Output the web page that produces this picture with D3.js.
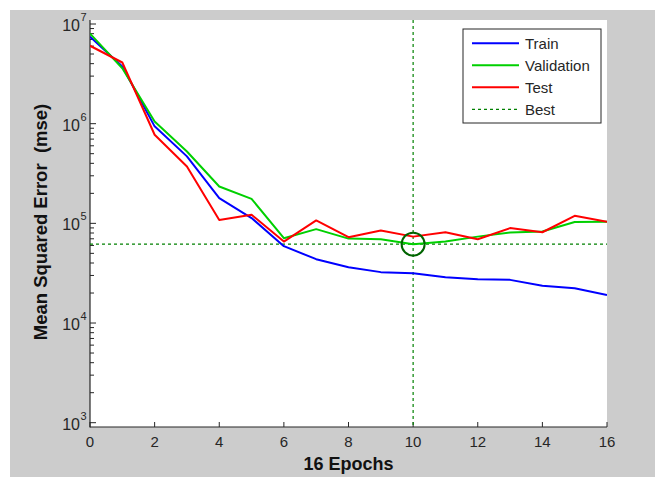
<!DOCTYPE html>
<html><head><meta charset="utf-8">
<script src="https://cdn.jsdelivr.net/npm/d3@7"></script>
<style>html,body{margin:0;padding:0;background:#fff;}svg{display:block;}</style>
</head><body>
<script>
const epochs = [0,1,2,3,4,5,6,7,8,9,10,11,12,13,14,15,16];
const train = [7.45e6,3.75e6,9.4e5,4.7e5,1.79e5,1.13e5,5.9e4,4.37e4,3.63e4,3.24e4,3.16e4,2.88e4,2.75e4,2.71e4,2.36e4,2.23e4,1.91e4];
const validation = [8.0e6,3.6e6,1.05e6,5.26e5,2.34e5,1.76e5,7.1e4,8.75e4,7.03e4,6.93e4,6.18e4,6.57e4,7.36e4,8.1e4,8.3e4,1.03e5,1.04e5];
const test = [6.05e6,4.11e6,7.74e5,3.72e5,1.08e5,1.22e5,6.56e4,1.07e5,7.26e4,8.47e4,7.36e4,8.14e4,6.93e4,8.96e4,8.14e4,1.19e5,1.04e5];
const bestEpoch = 10;
const bestValue = 6.18e4;
const xTicks = [0,2,4,6,8,10,12,14,16];
const yExponents = [3,4,5,6,7];
const legendLabels = ["Train","Validation","Test","Best"];
const xLabel = "16 Epochs";
const yLabel = "Mean Squared Error  (mse)";

const W = 655, H = 477;
const L = 90, R = 607, T = 20, B = 427;
const svg = d3.select("body").append("svg").attr("width", W).attr("height", H);
svg.append("rect").attr("x",10).attr("y",10).attr("width",W-10).attr("height",H-10).attr("fill","#cccccc");
svg.append("rect").attr("x",L).attr("y",T).attr("width",R-L).attr("height",B-T).attr("fill","#ffffff");

const x = d3.scaleLinear().domain([0,16]).range([L,R]);
const y = d3.scaleLog().domain([1e3,1e7]).range([422.7,24]);

const axisColor = "#262626";
const defs = svg.append("defs");
defs.append("clipPath").attr("id","clip").append("rect").attr("x",L).attr("y",T).attr("width",R-L).attr("height",B-T);

// y ticks
const gy = svg.append("g");
yExponents.forEach(e => {
  const v = Math.pow(10,e);
  gy.append("line").attr("x1",L).attr("x2",L+6).attr("y1",y(v)).attr("y2",y(v)).attr("stroke",axisColor);
  if (e < 7) {
    for (let m = 2; m <= 9; m++) {
      const vv = m*v;
      gy.append("line").attr("x1",L).attr("x2",L+4).attr("y1",y(vv)).attr("y2",y(vv)).attr("stroke",axisColor);
    }
  }
  gy.append("text").attr("x",80).attr("y",y(v)+7).attr("text-anchor","end")
    .attr("font-family","Liberation Sans, Arial, sans-serif").attr("font-size",16).attr("fill",axisColor).text("10");
  gy.append("text").attr("x",80.5).attr("y",y(v)-3).attr("font-family","Liberation Sans, Arial, sans-serif")
    .attr("font-size",11).attr("fill",axisColor).text(String(e));
});

// x ticks
const gx = svg.append("g");
xTicks.forEach(t => {
  gx.append("line").attr("x1",x(t)).attr("x2",x(t)).attr("y1",B).attr("y2",B-5).attr("stroke",axisColor);
  gx.append("text").attr("x",x(t)).attr("y",446.5).attr("text-anchor","middle")
    .attr("font-family","Liberation Sans, Arial, sans-serif").attr("font-size",15).attr("fill",axisColor).text(String(t));
});

// axis lines
svg.append("line").attr("x1",L).attr("x2",L).attr("y1",T).attr("y2",B+0.5).attr("stroke",axisColor).attr("stroke-width",1.2);
svg.append("line").attr("x1",L).attr("x2",R).attr("y1",B).attr("y2",B).attr("stroke",axisColor).attr("stroke-width",1.2);

// best lines
const plot = svg.append("g").attr("clip-path","url(#clip)");
const bestColor = "#008000";
plot.append("line").attr("x1",x(bestEpoch)).attr("x2",x(bestEpoch)).attr("y1",T).attr("y2",B)
  .attr("stroke",bestColor).attr("stroke-width",1.2).attr("stroke-dasharray","3,3");
plot.append("line").attr("x1",L).attr("x2",R).attr("y1",y(bestValue)).attr("y2",y(bestValue))
  .attr("stroke",bestColor).attr("stroke-width",1.2).attr("stroke-dasharray","3,3");

const line = d3.line().x((d,i)=>x(epochs[i])).y(d=>y(d));
const series = [
  {data: train, color:"#0000ff"},
  {data: validation, color:"#00d000"},
  {data: test, color:"#ff0000"}
];
series.forEach(s => {
  plot.append("path").attr("d", line(s.data)).attr("fill","none").attr("stroke",s.color).attr("stroke-width",2).attr("stroke-linejoin","round");
});
// best circle
plot.append("circle").attr("cx",x(bestEpoch)).attr("cy",y(bestValue)).attr("r",11.5)
  .attr("fill","none").attr("stroke","#006400").attr("stroke-width",2);

// legend
const lg = svg.append("g");
lg.append("rect").attr("x",463).attr("y",29).attr("width",138).attr("height",94).attr("fill","#fff").attr("stroke","#262626").attr("stroke-width",1);
const legendColors = ["#0000ff","#00d000","#ff0000",bestColor];
legendLabels.forEach((lab,i) => {
  const cy = 43.3 + i*22;
  const l = lg.append("line").attr("x1",472).attr("x2",519).attr("y1",cy).attr("y2",cy).attr("stroke",legendColors[i]);
  if (i === 3) l.attr("stroke-width",1.2).attr("stroke-dasharray","3,3");
  else l.attr("stroke-width",2);
  lg.append("text").attr("x",525).attr("y",cy+5.5).attr("font-family","Liberation Sans, Arial, sans-serif")
    .attr("font-size",15).attr("fill",axisColor).text(lab);
});

// axis labels
svg.append("text").attr("x",(L+R)/2).attr("y",470).attr("text-anchor","middle")
  .attr("font-family","Liberation Sans, Arial, sans-serif").attr("font-size",18).attr("font-weight","bold").attr("fill","#111").text(xLabel);
svg.append("text").attr("transform","translate(47,222) rotate(-90)").attr("text-anchor","middle")
  .attr("font-family","Liberation Sans, Arial, sans-serif").attr("font-size",18.5).attr("font-weight","bold").attr("fill","#111").attr("xml:space","preserve").style("white-space","pre").text(yLabel);
</script>
</body></html>
